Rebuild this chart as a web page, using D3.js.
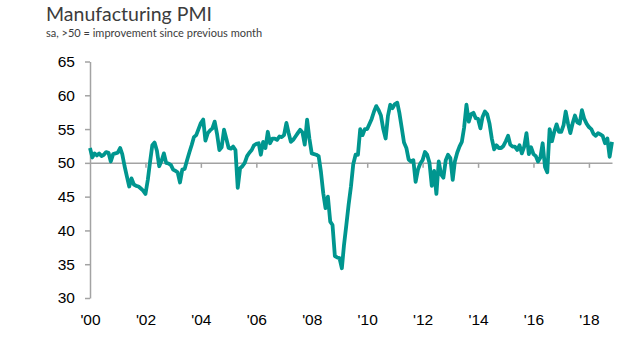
<!DOCTYPE html>
<html>
<head>
<meta charset="utf-8">
<script src="https://cdn.jsdelivr.net/npm/d3@7"></script>
<style>
  body { margin: 0; background: #fff; }
  svg { display: block; }
</style>
</head>
<body>
<script>
// monthly PMI, Jan 2000 .. Nov 2018
var startYear = 2000, startMonth = 0;
var pmi2000s = [
  52.2, 50.8, 51.4, 51.1, 51.4, 51.0, 51.2, 51.6, 51.5, 50.2, 51.3, 51.4,  // 2000
  51.5, 52.2, 51.3, 49.5, 48.0, 46.5, 47.7, 46.8, 46.6, 46.5, 46.2, 45.9,  // 2001
  45.4, 47.5, 50.0, 52.6, 53.0, 51.8, 49.5, 50.3, 51.4, 50.0, 49.9, 49.7,  // 2002
  49.0, 48.8, 48.6, 47.1, 49.0, 49.1, 50.3, 51.5, 52.6, 53.8, 54.1, 55.0,  // 2003
  55.9, 56.4, 53.3, 54.4, 54.8, 55.1, 56.1, 54.3, 51.9, 52.3, 54.9, 53.6,  // 2004
  52.2, 52.1, 52.4, 51.9, 46.3, 49.2, 49.5, 50.0, 51.0, 51.5, 51.9, 52.6,  // 2005
  52.8, 52.9, 51.2, 53.1, 52.2, 54.6, 52.9, 53.6, 53.6, 53.4, 53.9, 53.8,  // 2006
  54.1, 55.9, 54.5, 53.1, 53.4, 53.9, 54.4, 54.9, 54.5, 52.7, 56.4, 53.6,  // 2007
  51.4, 51.3, 51.2, 51.0, 48.7, 45.5, 43.3, 45.0, 41.3, 40.8, 36.2, 36.0,  // 2008
  35.9, 34.4, 37.8, 40.8, 43.8, 46.5, 49.8, 51.2, 51.2, 55.0, 54.1, 55.0   // 2009
];
var pmi2010s = [
  55.0, 55.8, 56.5, 57.6, 58.4, 57.8, 57.0, 55.0, 53.6, 56.9, 58.6, 58.1,  // 2010
  58.7, 58.9, 57.4, 55.2, 53.0, 52.2, 50.5, 50.2, 50.4, 47.2, 49.0, 49.9,  // 2011
  50.4, 51.6, 51.2, 50.0, 46.6, 48.8, 45.4, 50.2, 48.3, 47.8, 50.4, 51.2,  // 2012
  50.7, 47.5, 50.2, 51.5, 52.4, 53.1, 55.2, 58.6, 56.1, 57.2, 57.4, 56.6,  // 2013
  56.5, 55.1, 56.8, 57.6, 57.2, 55.8, 53.6, 52.0, 52.6, 52.2, 52.2, 52.5,  // 2014
  53.2, 54.0, 52.7, 52.4, 52.4, 51.9, 52.6, 51.4, 52.4, 54.4, 51.3, 52.3,  // 2015
  51.3, 51.0, 50.2, 50.8, 52.9, 49.4, 48.6, 55.0, 53.2, 54.6, 55.7, 54.6,  // 2016
  54.6, 55.6, 57.6, 55.8, 54.4, 55.9, 57.0, 56.0, 55.8, 57.8, 56.5, 55.8,  // 2017
  55.3, 55.0, 54.3, 54.0, 54.4, 54.2, 54.0, 52.9, 53.6, 50.9, 53.1         // 2018
];
var yTicks = [30, 35, 40, 45, 50, 55, 60, 65];
var xTickYears = [2000, 2002, 2004, 2006, 2008, 2010, 2012, 2014, 2016, 2018];

var title = "Manufacturing PMI";
var subtitle = "sa, >50 = improvement since previous month";

var W = 637, H = 341;
var lineColor = "#00968f", axisColor = "#a3a3a3";

var values = pmi2000s.concat(pmi2010s);
var data = values.map(function(v, i) {
  return {date: new Date(startYear, startMonth + i, 1), value: v};
});

var svg = d3.select("body").append("svg")
  .attr("width", W)
  .attr("height", H);

var x = d3.scaleTime()
  .domain([data[0].date, data[data.length - 1].date])
  .range([90, 612]);
var y = d3.scaleLinear()
  .domain([30, 65])
  .range([298, 61.5]);

svg.append("text")
  .attr("x", 46).attr("y", 21)
  .style("font-family", "Lato, 'Noto Sans', sans-serif")
  .style("font-size", "19.5px")
  .style("fill", "#3c3c3c")
  .text(title);
svg.append("text")
  .attr("x", 46).attr("y", 37)
  .style("font-family", "Lato, 'Noto Sans', sans-serif")
  .style("font-size", "11px")
  .style("fill", "#3c3c3c")
  .text(subtitle);

// y axis
var yAxis = svg.append("g")
  .attr("transform", "translate(90,0)")
  .call(d3.axisLeft(y).tickValues(yTicks).tickSize(5).tickSizeOuter(0).tickPadding(10));

// x axis along the 50 line, ticks only
var xAxis = svg.append("g")
  .attr("transform", "translate(0," + y(50) + ")")
  .call(d3.axisBottom(x)
    .tickValues(xTickYears.slice(1).map(function(yr) { return new Date(yr, 0, 1); }))
    .tickSize(5).tickSizeOuter(0).tickFormat(""));

// year labels at the bottom
var xLabels = svg.append("g")
  .attr("transform", "translate(0,314)")
  .call(d3.axisBottom(x)
    .tickValues(xTickYears.map(function(yr) { return new Date(yr, 0, 1); }))
    .tickSize(0).tickPadding(0)
    .tickFormat(function(d) { return "'" + d3.timeFormat("%y")(d); }));
xLabels.select(".domain").remove();

[yAxis, xAxis].forEach(function(g) {
  g.selectAll("path, line").attr("stroke", axisColor).attr("stroke-width", 1.5);
});
[yAxis, xLabels].forEach(function(g) {
  g.selectAll("text")
    .style("font-family", "'Liberation Sans', Arial, sans-serif")
    .style("font-size", "15.5px")
    .style("fill", "#000");
});

var line = d3.line()
  .x(function(d) { return x(d.date); })
  .y(function(d) { return y(d.value); });

svg.append("path")
  .datum(data)
  .attr("fill", "none")
  .attr("stroke", lineColor)
  .attr("stroke-width", 3.8)
  .attr("stroke-linejoin", "round")
  .attr("d", line);
</script>
</body>
</html>
